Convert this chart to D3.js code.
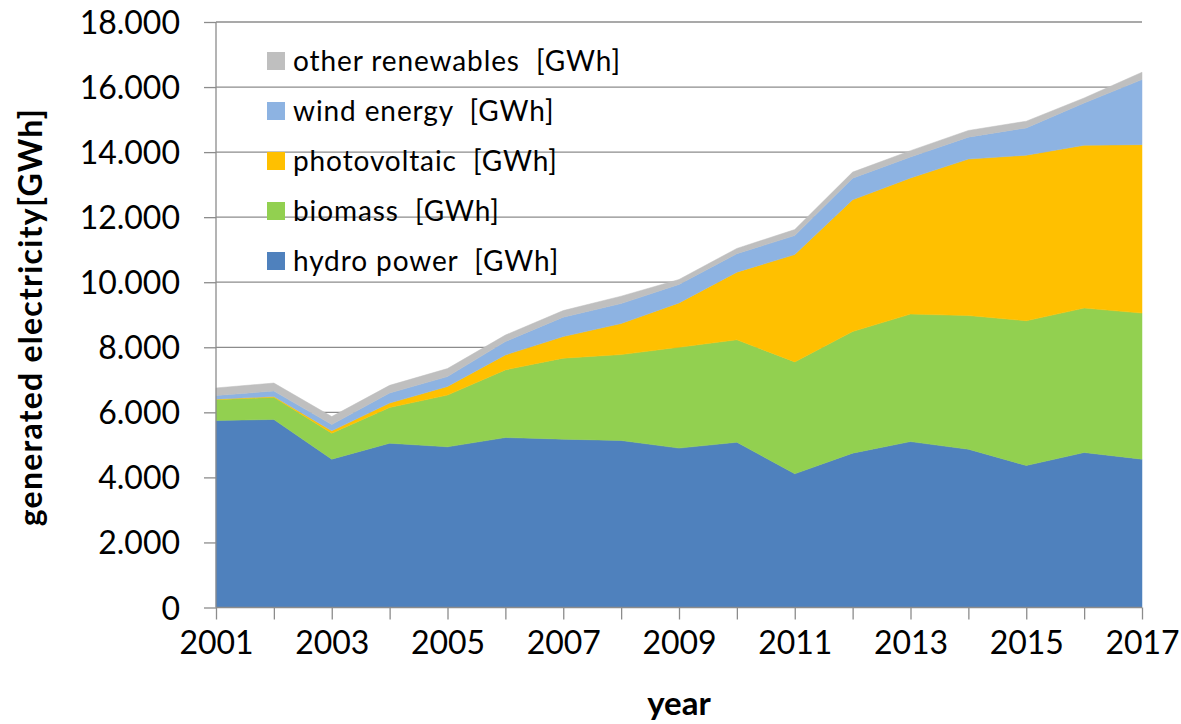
<!DOCTYPE html>
<html>
<head>
<meta charset="utf-8">
<script src="https://cdn.jsdelivr.net/npm/d3@7"></script>
<style>
    body { margin: 0; background: #fff; }
    #chart-area { width: 1181px; height: 724px; }
    text { font-family: Lato, "Noto Sans", sans-serif; fill: #000; }
    .legend-text { white-space: pre; }
</style>
</head>
<body>
<div id="chart-area"></div>
<script>
// values, GWh per year
const years = [2001, 2002, 2003, 2004, 2005, 2006, 2007, 2008, 2009, 2010, 2011, 2012, 2013, 2014, 2015, 2016, 2017];
const hydro = [5750, 5780, 4560, 5050, 4940, 5225, 5175, 5135, 4900, 5080, 4110, 4745, 5100, 4865, 4365, 4765, 4560];
const biomass = [640, 680, 800, 1100, 1590, 2080, 2490, 2640, 3100, 3150, 3440, 3740, 3920, 4110, 4450, 4440, 4490];
const photovoltaic = [15, 25, 70, 135, 265, 460, 665, 955, 1365, 2080, 3300, 4050, 4185, 4810, 5090, 5005, 5180];
const wind = [110, 170, 195, 310, 305, 410, 595, 615, 565, 565, 585, 665, 645, 675, 840, 1300, 2000];
const other = [235, 245, 245, 234, 246, 200, 204, 226, 154, 164, 184, 185, 195, 205, 205, 154, 225];

// stacking order bottom -> top
const seriesKeys = ["hydro", "biomass", "photovoltaic", "wind", "other"];
const seriesLabels = ["hydro power  [GWh]", "biomass  [GWh]", "photovoltaic  [GWh]", "wind energy  [GWh]", "other renewables  [GWh]"];
const seriesColors = ["#4f81bd", "#92d050", "#ffc000", "#8db3e2", "#bfbfbf"];
const yTicks = [0, 2000, 4000, 6000, 8000, 10000, 12000, 14000, 16000, 18000];

class AreaVis {
    constructor(parentElement) {
        this.parentElement = parentElement;
        this.initVis();
    }

    initVis() {
        let vis = this;

        vis.margin = {top: 22, right: 39, bottom: 116.5, left: 216};
        vis.width = 1181 - vis.margin.left - vis.margin.right;
        vis.height = 724 - vis.margin.top - vis.margin.bottom;

        vis.svg = d3.select("#" + vis.parentElement)
            .append("svg")
            .attr("width", 1181)
            .attr("height", 724)
            .append("g")
            .attr("transform", `translate(${vis.margin.left}, ${vis.margin.top})`);

        vis.x = d3.scaleLinear()
            .domain(d3.extent(years))
            .range([0, vis.width]);

        vis.y = d3.scaleLinear()
            .domain([0, 18000])
            .range([vis.height, 0]);

        // 18.000 style numbers
        vis.fmt = d3.formatLocale({decimal: ",", thousands: ".", grouping: [3], currency: ["", ""]}).format(",");

        // gridlines behind the areas
        vis.svg.append("g")
            .attr("class", "grid")
            .selectAll("line")
            .data(yTicks.slice(1))
            .enter().append("line")
            .attr("x1", 0)
            .attr("x2", vis.width)
            .attr("y1", d => vis.y(d))
            .attr("y2", d => vis.y(d))
            .attr("stroke", "#8c8c8c")
            .attr("stroke-width", 1.3);

        vis.wrangleData();
    }

    wrangleData() {
        let vis = this;

        vis.table = years.map((yr, i) => ({
            year: yr,
            hydro: hydro[i],
            biomass: biomass[i],
            photovoltaic: photovoltaic[i],
            wind: wind[i],
            other: other[i]
        }));

        vis.stacked = d3.stack().keys(seriesKeys)(vis.table);

        vis.updateVis();
    }

    updateVis() {
        let vis = this;

        let area = d3.area()
            .x(d => vis.x(d.data.year))
            .y0(d => vis.y(d[0]))
            .y1(d => vis.y(d[1]));

        vis.svg.selectAll(".layer")
            .data(vis.stacked)
            .enter().append("path")
            .attr("class", "layer")
            .attr("d", area)
            .attr("fill", (d, i) => seriesColors[i])
            .attr("stroke", (d, i) => seriesColors[i])
            .attr("stroke-width", 0.5);

        // y axis
        let yAxis = d3.axisLeft(vis.y)
            .tickValues(yTicks)
            .tickFormat(vis.fmt)
            .tickSize(12)
            .tickPadding(24);

        let yg = vis.svg.append("g").call(yAxis);
        yg.select(".domain").attr("stroke", "#8c8c8c").attr("stroke-width", 1.3).attr("d", `M0,0V${vis.height}`);
        yg.selectAll(".tick line").attr("stroke", "#8c8c8c").attr("stroke-width", 1.3);
        yg.selectAll(".tick text").style("font-size", "32px").attr("dy", "0.36em");

        // x axis, a tick for every year, labels on odd years
        let xAxis = d3.axisBottom(vis.x)
            .tickValues(years)
            .tickFormat(d => d % 2 === 1 ? d : "")
            .tickSize(12)
            .tickPadding(12);

        let xg = vis.svg.append("g")
            .attr("transform", `translate(0, ${vis.height})`)
            .call(xAxis);
        xg.select(".domain").attr("stroke", "#8c8c8c").attr("stroke-width", 1.3).attr("d", `M0,0H${vis.width}`);
        xg.selectAll(".tick text").style("font-size", "32px").attr("dy", "0.71em");
        xg.selectAll(".tick line").attr("stroke", "#8c8c8c").attr("stroke-width", 1.3);

        // axis titles
        vis.svg.append("text")
            .attr("x", vis.width / 2)
            .attr("y", vis.height + 107)
            .attr("text-anchor", "middle")
            .style("font-size", "33px")
            .style("font-weight", "bold")
            .text("year");

        vis.svg.append("text")
            .attr("transform", `translate(${42 - vis.margin.left}, ${vis.height / 2 + 3}) rotate(-90)`)
            .attr("text-anchor", "middle")
            .attr("textLength", 417)
            .attr("lengthAdjust", "spacing")
            .style("font-size", "32px")
            .style("font-weight", "bold")
            .text("generated electricity[GWh]");

        // legend, top entry is the top layer
        let legend = vis.svg.append("g")
            .attr("class", "legend")
            .attr("transform", `translate(${267 - vis.margin.left}, ${61 - vis.margin.top})`);

        let entries = seriesKeys.map((k, i) => ({label: seriesLabels[i], color: seriesColors[i]})).reverse();

        legend.selectAll(".legend-rect")
            .data(entries)
            .enter().append("rect")
            .attr("class", "legend-rect")
            .attr("x", 0)
            .attr("y", (d, i) => i * 50 - 9)
            .attr("width", 18)
            .attr("height", 18)
            .attr("fill", d => d.color);

        legend.selectAll(".legend-text")
            .data(entries)
            .enter().append("text")
            .attr("class", "legend-text")
            .attr("x", 26)
            .attr("y", (d, i) => i * 50)
            .attr("dy", "0.36em")
            .style("font-size", "28px")
            .style("letter-spacing", "0.9px")
            .text(d => d.label);
    }
}

new AreaVis("chart-area");
</script>
</body>
</html>
